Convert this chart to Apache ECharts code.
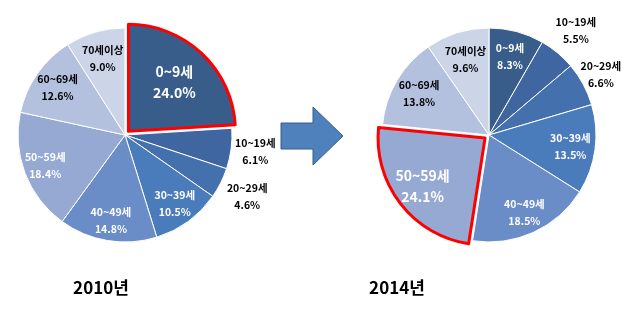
<!DOCTYPE html>
<html style="height: 100%;">
<head>
<meta charset="utf-8">
<title>연령대별 구성비 2010년 / 2014년</title>
<script src="https://cdn.jsdelivr.net/npm/echarts@6/dist/echarts.min.js"></script>
</head>
<body style="height: 100%; margin: 0; background: #fff;">
<div id="container" style="width: 643px; height: 322px;"></div>
<script>
// 연령대 구분
var ageGroups = ['0~9세', '10~19세', '20~29세', '30~39세', '40~49세', '50~59세', '60~69세', '70세이상'];
// 구성비 (%)
var share2010 = [24.0, 6.1, 4.6, 10.5, 14.8, 18.4, 12.6, 9.0];
var share2014 = [8.3, 5.5, 6.6, 13.5, 18.5, 24.1, 13.8, 9.6];
var years = ['2010년', '2014년'];
// 강조 조각 (빨간 테두리)
var highlight = [0, 5];

var sliceColors = ['#385d8a', '#3f66a0', '#4470ad', '#4a7cbc', '#6a8dc7', '#95a9d3', '#b3c0de', '#ccd4e7'];
var labelColors = ['#fff', '#000', '#000', '#fff', '#fff', '#fff', '#000', '#000'];
// 라벨 위치 (반지름 대비 비율)
var labelDist = [
  [0.6, 1.2, 1.25, 0.76, 0.78, 0.77, 0.74, 0.72],
  [0.73, 1.24, 1.16, 0.74, 0.77, 0.71, 0.73, 0.71]
];
var centers = [[125, 135], [489, 135]];
var R = 107;
var OFFSET = 5;
var FONT = '"Noto Sans CJK KR", "Noto Sans", sans-serif';

var dom = document.getElementById('container');
var myChart = echarts.init(dom, null, {renderer: 'canvas'});

function midAngles(values) {
  var total = values.reduce(function (a, b) { return a + b; }, 0);
  var acc = 0, res = [];
  values.forEach(function (v) {
    res.push((acc + v / 2) / total * 2 * Math.PI);
    acc += v;
  });
  return res;
}

function buildSeries(values, idx) {
  var mids = midAngles(values);
  var data = values.map(function (v, i) {
    // 기본 inside 위치(0.5R)에서 원하는 거리까지 이동
    var shift = (labelDist[idx][i] - 0.5) * R;
    var off = [Math.sin(mids[i]) * shift, -Math.cos(mids[i]) * shift];
    var item = {
      name: ageGroups[i],
      value: v,
      itemStyle: {color: sliceColors[i]},
      label: {color: labelColors[i], offset: off}
    };
    if (i === highlight[idx]) {
      var hiStyle = {color: sliceColors[i], borderColor: '#ff0000', borderWidth: 3};
      var hiLabel = {color: '#fff', fontSize: 14, lineHeight: 21, offset: off};
      item.selected = true;
      item.itemStyle = hiStyle;
      item.label = hiLabel;
      item.select = {itemStyle: hiStyle, label: hiLabel};
    }
    return item;
  });
  return {
    type: 'pie',
    center: centers[idx],
    radius: [0, R],
    startAngle: 90,
    clockwise: true,
    selectedMode: 'single',
    selectedOffset: OFFSET,
    animation: false,
    itemStyle: {borderColor: '#fff', borderWidth: 1},
    label: {
      show: true,
      position: 'inside',
      formatter: function (p) { return p.name + '\n' + p.value.toFixed(1) + '%'; },
      fontFamily: FONT,
      fontWeight: 'bold',
      fontSize: 10.5,
      lineHeight: 17,
      align: 'center',
      verticalAlign: 'middle'
    },
    labelLine: {show: false},
    emphasis: {disabled: true},
    data: data
  };
}

var titleFont = {fontFamily: '"Liberation Sans Narrow", "Noto Sans CJK KR", sans-serif', fontWeight: 'bold', fontSize: 17, color: '#000'};

var option = {
  backgroundColor: '#fff',
  animation: false,
  title: [
    {text: years[0], left: 96, top: 274, textAlign: 'center', textStyle: titleFont},
    {text: years[1], left: 392, top: 274, textAlign: 'center', textStyle: titleFont}
  ],
  graphic: [{
    type: 'polygon',
    shape: {points: [[281, 123], [313, 123], [313, 107], [343, 136], [313, 165], [313, 149], [281, 149]]},
    style: {fill: '#4f81bd', stroke: '#385d8a', lineWidth: 1}
  }],
  series: [buildSeries(share2010, 0), buildSeries(share2014, 1)]
};
myChart.setOption(option);
</script>
</body>
</html>
